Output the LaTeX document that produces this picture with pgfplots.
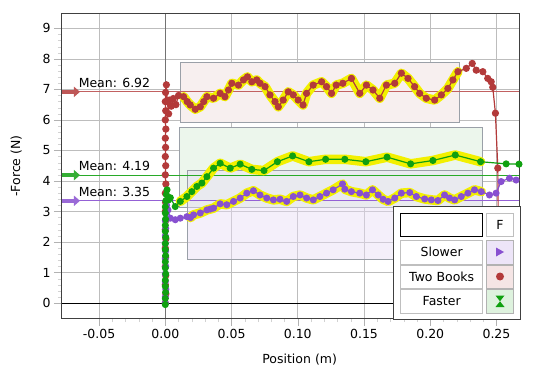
\documentclass[border=0pt]{standalone}
\usepackage{fontspec}
\setmainfont{DejaVu Sans}
\usepackage{pgfplots}
\pgfplotsset{compat=1.18}
\usetikzlibrary{arrows.meta}
\definecolor{redc}{HTML}{B33A3A}
\definecolor{greenc}{HTML}{10A010}
\definecolor{purplec}{HTML}{8850D0}
\definecolor{yellowc}{HTML}{F2F000}
\definecolor{redbox}{HTML}{F7EFEF}
\definecolor{greenbox}{HTML}{ECF6EC}
\definecolor{purplebox}{HTML}{E6DCF4}
\definecolor{boxedge}{HTML}{9AA0A8}
\definecolor{gridc}{HTML}{BDBDBD}

\pgfplotstableread{
x y
0 0
0.0004 0.3
0 0.6
0.0003 0.9
0 1.2
0.0002 1.5
0 1.8
0.0004 2.1
0 2.4
0.0003 2.7
0 3.0
0.0002 3.3
0 3.6
0.0004 3.9
0 4.2
0.0003 4.5
0 4.8
0.0002 5.1
0 5.4
0.0004 5.7
0 6.0
0.0003 6.3
0 6.6
0.0002 6.9
0.0008 7.15
0.0015 6.6
0.0025 6.2
0.003 6.65
0.0045 6.45
0.006 6.7
0.008 6.5
0.010 6.8
0.0138 6.76
0.0165 6.6
0.0188 6.49
0.0226 6.35
0.0264 6.43
0.029 6.6
0.0314 6.76
0.0364 6.71
0.0414 6.87
0.045 6.76
0.0477 6.98
0.0502 7.2
0.0552 7.14
0.059 7.31
0.062 7.41
0.0653 7.25
0.069 7.31
0.0715 7.2
0.0753 7.09
0.079 6.82
0.0828 6.6
0.0853 6.43
0.089 6.65
0.0928 6.92
0.0966 6.82
0.1003 6.65
0.104 6.49
0.1066 6.87
0.1116 7.14
0.118 7.25
0.1217 7.09
0.1255 6.87
0.129 7.14
0.134 7.2
0.1405 7.36
0.1468 6.87
0.1518 7.14
0.1568 6.98
0.1619 6.71
0.1669 7.14
0.1732 7.2
0.1782 7.53
0.1832 7.36
0.1882 7.09
0.192 6.87
0.197 6.71
0.2033 6.65
0.2084 6.82
0.2133 7.03
0.2171 7.31
0.2209 7.58
0.2272 7.69
0.2317 7.85
0.2347 7.63
0.2397 7.58
0.2434 7.36
0.246 7.25
0.2472 7.07
0.2492 6.22
0.251 4.42
0.2515 2.0
}\twobooks

\pgfplotstableread{
x y
0 0
0 0.2
0.0004 0.45
0 0.7
0 0.95
0.0003 1.2
0 1.45
0.0002 1.7
0 1.95
0 2.2
0.0003 2.45
0 2.7
0.0005 2.95
0.001 3.2
0.002 3.05
0.0038 2.78
0.0075 2.73
0.0113 2.78
0.0163 2.83
0.019 2.8
0.0213 2.89
0.0264 2.95
0.0314 3.05
0.034 3.08
0.0364 3.11
0.0414 3.25
0.0464 3.22
0.0515 3.33
0.0565 3.44
0.0615 3.6
0.0665 3.68
0.0715 3.54
0.0766 3.44
0.0816 3.38
0.0866 3.4
0.0916 3.33
0.0966 3.49
0.1017 3.54
0.1067 3.44
0.1117 3.38
0.1167 3.49
0.1217 3.6
0.1267 3.71
0.1338 3.9
0.1355 3.73
0.1405 3.65
0.1468 3.6
0.1518 3.54
0.1564 3.71
0.1607 3.54
0.1644 3.4
0.1682 3.33
0.1732 3.44
0.1782 3.6
0.1845 3.62
0.1895 3.49
0.1958 3.41
0.2008 3.38
0.2058 3.36
0.2108 3.54
0.2146 3.44
0.2184 3.38
0.2234 3.49
0.2284 3.6
0.2334 3.71
0.2385 3.65
0.2447 3.54
0.2497 3.6
0.2535 3.98
0.2598 4.09
0.2648 4.03
}\slower

\pgfplotstableread{
x y
0 -0.05
0 0.15
0.0002 0.35
0 0.55
0 0.75
0.0003 0.95
0 1.15
0 1.35
0.0002 1.55
0 1.75
0 1.95
0.0003 2.15
0 2.35
0 2.55
0.0002 2.75
0 2.95
0 3.15
0.0004 3.35
0.0008 3.55
0.0013 3.71
0.0025 3.38
0.0038 3.45
0.0075 3.16
0.0113 3.33
0.0163 3.49
0.02 3.65
0.0238 3.82
0.0276 3.93
0.0314 4.14
0.0364 4.42
0.0414 4.58
0.049 4.42
0.0565 4.55
0.0653 4.38
0.0745 4.34
0.0846 4.63
0.0961 4.82
0.1084 4.63
0.121 4.71
0.1355 4.71
0.1514 4.63
0.1674 4.78
0.1852 4.56
0.202 4.67
0.2189 4.85
0.238 4.63
0.2573 4.56
0.267 4.55
}\faster

\begin{document}
\begin{tikzpicture}[x=1pt, y=1pt, font=\fontsize{12.5}{15}\selectfont]
\begin{axis}[
  scale only axis, width=457pt, height=304pt,
  xmin=-0.078, xmax=0.267, ymin=-0.49, ymax=9.47,
  xtick={-0.05,0,0.05,0.1,0.15,0.2,0.25},
  ytick={0,1,2,3,4,5,6,7,8,9},
  minor x tick num=4, minor y tick num=4,
  tick pos=left, tick align=outside,
  major tick length=8pt, minor tick length=4pt,
  tick style={draw=gray!60},
  minor tick style={draw=gray!35},
  grid=major, major grid style={gridc, line width=0.7pt},
  axis line style={draw=black!75, line width=1pt},
  /pgf/number format/assume math mode=true,
  xticklabel style={/pgf/number format/.cd, fixed, fixed zerofill, precision=2},
  yticklabel style={/pgf/number format/.cd, fixed, precision=0},
  tick label style={font=\fontsize{12.5}{15}\selectfont},
  xlabel={Position (m)}, ylabel={-Force (N)},
  label style={font=\fontsize{12.5}{15}\selectfont},
  xlabel style={at={(axis description cs:0.52,-0.138)}, anchor=center},
  ylabel style={at={(axis description cs:-0.1,0.5)}, anchor=center},
  clip=true,
]
% selection boxes
\draw[fill=redbox, draw=boxedge, line width=1pt] (axis cs:0.0113,5.90) rectangle (axis cs:0.222,7.87);
\draw[fill=greenbox, draw=boxedge, line width=1pt] (axis cs:0.0105,3.12) rectangle (axis cs:0.2397,5.76);
\draw[fill=purplebox, fill opacity=0.45, draw=boxedge, line width=1pt] (axis cs:0.0168,1.42) rectangle (axis cs:0.2395,4.33);
% reference lines
\addplot[black!55, line width=1.2pt] coordinates {(0,-0.49) (0,9.47)};
\addplot[black, line width=0.8pt] coordinates {(-0.078,0) (0.267,0)};
% mean lines
\addplot[redc!80, line width=0.7pt] coordinates {(-0.078,6.92) (0.267,6.92)};
\addplot[greenc!90, line width=0.7pt] coordinates {(-0.078,4.19) (0.267,4.19)};
\addplot[purplec!90, line width=0.7pt] coordinates {(-0.078,3.35) (0.267,3.35)};
\draw[redc!85, line width=4pt, -{Triangle[length=6pt,width=10pt]}] (axis cs:-0.078,6.92) -- ++(18pt,0pt);
\draw[greenc!85, line width=4pt, -{Triangle[length=6pt,width=10pt]}] (axis cs:-0.078,4.19) -- ++(18pt,0pt);
\draw[purplec!85, line width=4pt, -{Triangle[length=6pt,width=10pt]}] (axis cs:-0.078,3.35) -- ++(18pt,0pt);
\node[anchor=base west, inner sep=0pt, yshift=4.5pt] at (axis cs:-0.0655,6.92) {Mean: 6.92};
\node[anchor=base west, inner sep=0pt, yshift=4.5pt] at (axis cs:-0.0655,4.19) {Mean: 4.19};
\node[anchor=base west, inner sep=0pt, yshift=4.5pt] at (axis cs:-0.0655,3.35) {Mean: 3.35};
% highlights
\addplot[yellowc, line width=9.5pt, line join=round, line cap=round, restrict x to domain=0.0113:0.222] table {\twobooks};
\addplot[yellowc, line width=9.5pt, line join=round, line cap=round, restrict x to domain=0.0168:0.241] table {\slower};
\addplot[yellowc, line width=9.5pt, line join=round, line cap=round, restrict x to domain=0.0105:0.240] table {\faster};
% series
\addplot[redc, line width=1.2pt, mark=*, mark size=3pt, mark options={fill=redc, draw=redc}] table {\twobooks};
\addplot[purplec, line width=1.2pt, mark=*, mark size=2.9pt, mark options={fill=purplec, draw=purplec}] table {\slower};
\addplot[greenc, line width=1.2pt, mark=*, mark size=2.9pt, mark options={fill=greenc, draw=greenc}] table {\faster};
\end{axis}
% legend
\draw[fill=white, draw=black!75, line width=1pt] (331.3pt,-1.3pt) rectangle (458pt,111.3pt);
\draw[fill=white, draw=black, line width=0.9pt] (338.7pt,82pt) rectangle (420.7pt,104.7pt);
\draw[fill=white, draw=gray!50, line width=0.9pt] (424.7pt,82pt) rectangle (451.3pt,104.7pt);
\node at (438pt,93.3pt) {F};
\draw[fill=white, draw=gray!50, line width=0.9pt] (338.7pt,54pt) rectangle (420.7pt,78pt);
\draw[fill=white, draw=gray!50, line width=0.9pt] (338.7pt,30pt) rectangle (420.7pt,53pt);
\draw[fill=white, draw=gray!50, line width=0.9pt] (338.7pt,5pt) rectangle (420.7pt,28.5pt);
\node at (379.7pt,66pt) {Slower};
\node at (379.7pt,41.5pt) {Two Books};
\node at (379.7pt,16.7pt) {Faster};
\draw[fill=purplec!15, draw=gray!60, line width=0.9pt] (424.7pt,54pt) rectangle (451.3pt,78pt);
\draw[fill=redc!13, draw=gray!60, line width=0.9pt] (424.7pt,30pt) rectangle (451.3pt,53pt);
\draw[fill=greenc!14, draw=gray!60, line width=0.9pt] (424.7pt,5pt) rectangle (451.3pt,28.5pt);
\fill[purplec] (434pt,61.5pt) -- (434pt,70.5pt) -- (442pt,66pt) -- cycle;
\fill[redc] (438pt,41.5pt) circle (4pt);
\fill[greenc] (433.5pt,22.5pt) -- (442.5pt,22.5pt) -- (438pt,16.7pt) -- (442.5pt,11pt) -- (433.5pt,11pt) -- (438pt,16.7pt) -- cycle;
\path (-62pt,-60pt) rectangle (471pt,318pt);
\end{tikzpicture}
\end{document}
